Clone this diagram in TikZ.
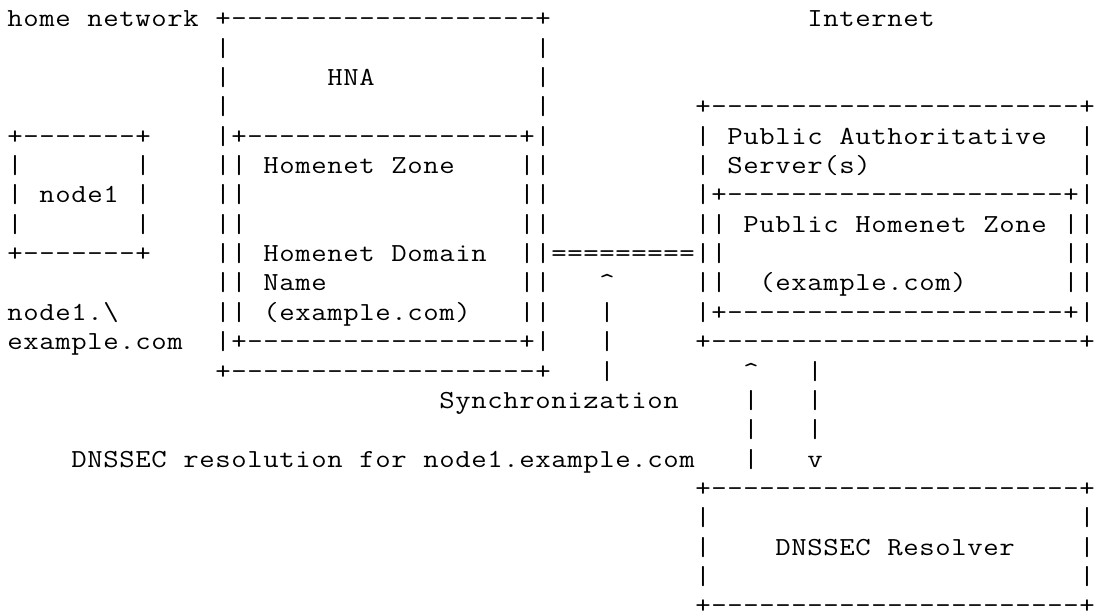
\documentclass[tikz,border=0pt]{standalone}
\usepackage{graphicx}
\usepackage{tikz}

\newlength\cw
\setlength\cw{8pt}
\newcommand{\cells}[1]{\hspace*{#1\cw}}
\ExplSyntaxOn
\NewDocumentCommand \asc { m }
  { \tl_map_inline:nn {#1} { \hbox_to_wd:nn { \cw } { \hfil \scalebox{1.15}[1]{##1} \hfil } } }
\ExplSyntaxOff

\begin{document}
\begin{tikzpicture}[x=8pt, y=-14.675pt,
                    ascii/.style={anchor=base west, inner sep=0pt,
                                  font=\ttfamily\fontsize{13pt}{14.675pt}\selectfont}]
  \useasboundingbox (-3.35pt,13.4pt) rectangle (544.15pt,-292.1pt);
  \node[ascii] (r0) at (0,0) {\asc{home~network~+-------------------+}\cells{16}\asc{Internet}};
  \node[ascii] (r1) at (13,1) {\asc{|}\cells{19}\asc{|}};
  \node[ascii] (r2) at (13,2) {\asc{|}\cells{6}\asc{HNA}\cells{10}\asc{|}};
  \node[ascii] (r3) at (13,3) {\asc{|}\cells{19}\asc{|}\cells{9}\asc{+-----------------------+}};
  \node[ascii] (r4) at (0,4) {\asc{+-------+}\cells{4}\asc{|+-----------------+|}\cells{9}\asc{|~Public~Authoritative}\cells{2}\asc{|}};
  \node[ascii] (r5) at (0,5) {\asc{|}\cells{7}\asc{|}\cells{4}\asc{||~Homenet~Zone}\cells{4}\asc{||}\cells{9}\asc{|~Server(s)}\cells{13}\asc{|}};
  \node[ascii] (r6) at (0,6) {\asc{|~node1~|}\cells{4}\asc{||}\cells{17}\asc{||}\cells{9}\asc{|+---------------------+|}};
  \node[ascii] (r7) at (0,7) {\asc{|}\cells{7}\asc{|}\cells{4}\asc{||}\cells{17}\asc{||}\cells{9}\asc{||~Public~Homenet~Zone~||}};
  \node[ascii] (r8) at (0,8) {\asc{+-------+}\cells{4}\asc{||~Homenet~Domain}\cells{2}\asc{||=========||}\cells{21}\asc{||}};
  \node[ascii] (r9) at (13,9) {\asc{||~Name}\cells{12}\asc{||}\cells{3}\asc{\textasciicircum}\cells{5}\asc{||}\cells{2}\asc{(example.com)}\cells{6}\asc{||}};
  \node[ascii] (r10) at (0,10) {\asc{node1.\textbackslash}\cells{6}\asc{||~(example.com)}\cells{3}\asc{||}\cells{3}\asc{|}\cells{5}\asc{|+---------------------+|}};
  \node[ascii] (r11) at (0,11) {\asc{example.com}\cells{2}\asc{|+-----------------+|}\cells{3}\asc{|}\cells{5}\asc{+-----------------------+}};
  \node[ascii] (r12) at (13,12) {\asc{+-------------------+}\cells{3}\asc{|}\cells{8}\asc{\textasciicircum}\cells{3}\asc{|}};
  \node[ascii] (r13) at (27,13) {\asc{Synchronization}\cells{4}\asc{|}\cells{3}\asc{|}};
  \node[ascii] (r14) at (46,14) {\asc{|}\cells{3}\asc{|}};
  \node[ascii] (r15) at (4,15) {\asc{DNSSEC~resolution~for~node1.example.com}\cells{3}\asc{|}\cells{3}\asc{v}};
  \node[ascii] (r16) at (43,16) {\asc{+-----------------------+}};
  \node[ascii] (r17) at (43,17) {\asc{|}\cells{23}\asc{|}};
  \node[ascii] (r18) at (43,18) {\asc{|}\cells{4}\asc{DNSSEC~Resolver}\cells{4}\asc{|}};
  \node[ascii] (r19) at (43,19) {\asc{|}\cells{23}\asc{|}};
  \node[ascii] (r20) at (43,20) {\asc{+-----------------------+}};
\end{tikzpicture}
\end{document}
